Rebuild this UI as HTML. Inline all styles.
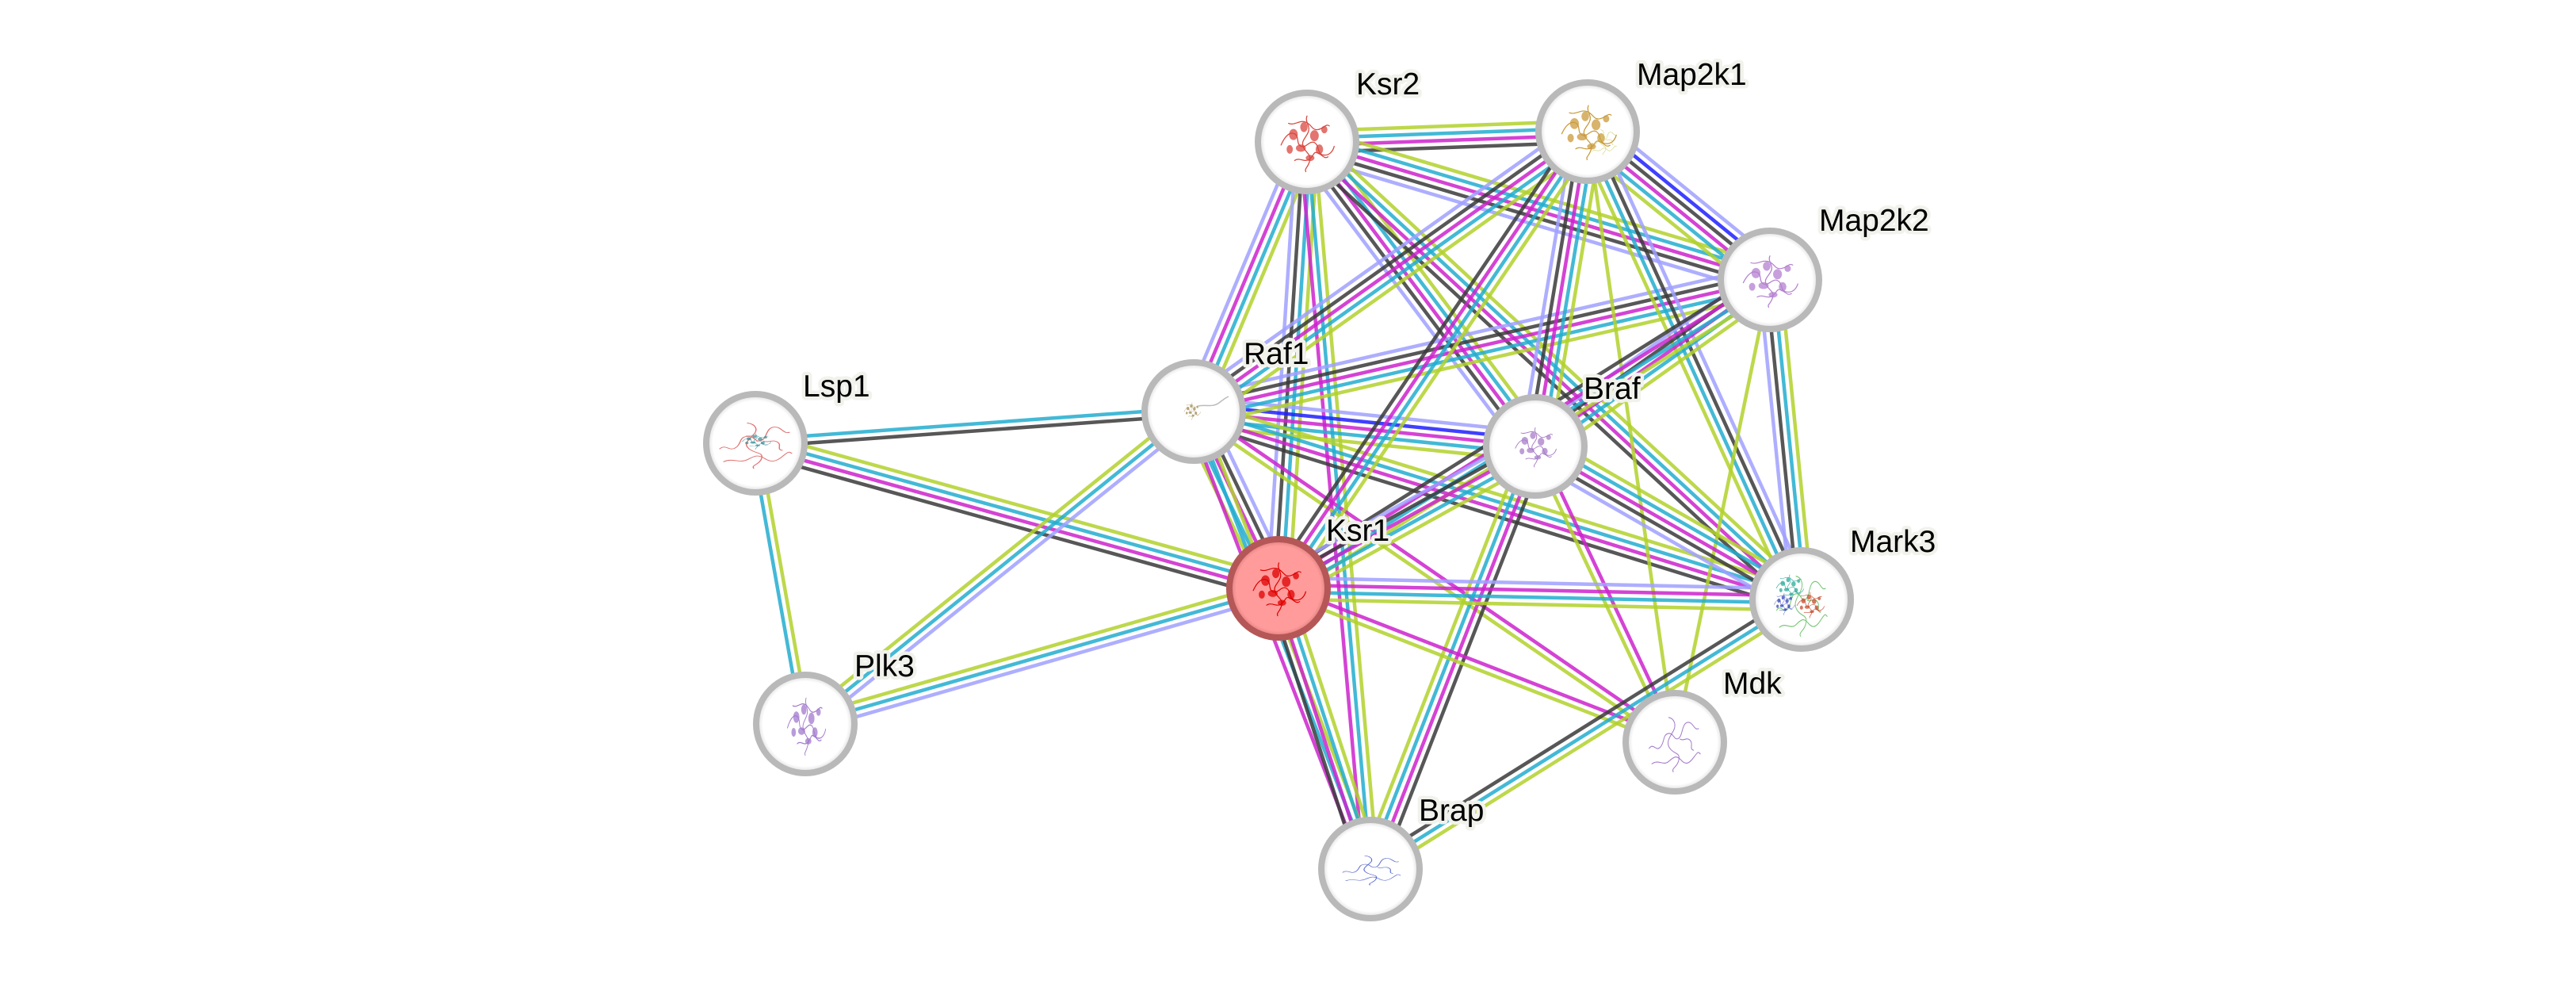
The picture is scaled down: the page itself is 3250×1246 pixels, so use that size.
<!DOCTYPE html>
<html><head><meta charset="utf-8"><title>Ksr1 network</title><style>
html,body{margin:0;padding:0;background:#fff;}
svg{display:block}
.e path{fill:none;stroke-width:4.5;stroke-opacity:.85}
.l{stroke:#b2d12b}.c{stroke:#22adcf}.m{stroke:#cc22cc}.k{stroke:#3a3a3a}.b{stroke:#1f1fff}.v{stroke:#a0a0ff}
text{font-family:"Liberation Sans",Arial,sans-serif;font-size:39px;fill:#000;stroke:#f2f2ed;stroke-width:9px;stroke-linejoin:round;paint-order:stroke}
</style></head><body>
<svg width="3250" height="1246" viewBox="0 0 3250 1246" xmlns="http://www.w3.org/2000/svg">
<defs>
<radialGradient id="gw"><stop offset="0" stop-color="#fff"/><stop offset=".86" stop-color="#fff"/><stop offset="1" stop-color="#d8d8d8"/></radialGradient>
<radialGradient id="gr"><stop offset="0" stop-color="#ff9b9b"/><stop offset=".86" stop-color="#ff9b9b"/><stop offset="1" stop-color="#d97a7a"/></radialGradient>
<symbol id="pg" viewBox="0 0 100 100" preserveAspectRatio="none">
<g fill="none" stroke="currentColor" stroke-width="1.6" stroke-linecap="round">
<path d="M8 55c6-14 14-22 22-18s2 16 10 20 14-10 22-6 4 18 14 20 16-6 18-14"/>
<path d="M20 20c10 4 18-6 28-2s10 14 20 12 12-10 18-6"/>
<path d="M30 80c8-6 16 4 24-2s6-14 14-10 10 10 16 6"/>
<path d="M50 8c-4 10 6 16 2 26s-12 14-8 24 14 12 10 24-8 10-6 16"/>
</g>
<g fill="currentColor" fill-opacity=".75">
<ellipse cx="28" cy="38" rx="7" ry="9"/>
<ellipse cx="45" cy="26" rx="6" ry="8"/>
<ellipse cx="62" cy="40" rx="7" ry="9"/>
<ellipse cx="40" cy="60" rx="8" ry="6"/>
<ellipse cx="70" cy="62" rx="6" ry="8"/>
<ellipse cx="55" cy="76" rx="7" ry="5"/>
<ellipse cx="22" cy="62" rx="5" ry="7"/>
<ellipse cx="78" cy="30" rx="5" ry="6"/>
</g>
</symbol>
<symbol id="pt" viewBox="0 0 100 100" preserveAspectRatio="none">
<g fill="none" stroke="currentColor" stroke-width="1.4" stroke-linecap="round">
<path d="M5 60c8-10 12 6 20-2s4-20 14-22 10 12 18 8 6-24 16-26 12 14 20 10"/>
<path d="M40 10c10 2 14 12 8 22s-14 18-6 28 18 6 16 18-14 14-10 20"/>
<path d="M10 85c12-8 20 4 30-4s14-10 22-2 14 6 22-4 8-10 12-6"/>
<path d="M60 45c6 4 12-4 18 2s-2 14 6 16"/>
</g>
</symbol>
</defs>
<rect width="3250" height="1246" fill="#fff"/>

<g class="e">
<g transform="translate(953 559) rotate(-4.14)"><path class="c" d="M0 -4.5H554"/><path class="k" d="M0 4.5H554"/></g>
<g transform="translate(953 559) rotate(15.50)"><path class="l" d="M0 -13.5H685"/><path class="c" d="M0 -4.5H685"/><path class="m" d="M0 4.5H685"/><path class="k" d="M0 13.5H685"/></g>
<g transform="translate(953 559) rotate(79.91)"><path class="l" d="M0 -4.5H360"/><path class="c" d="M0 4.5H360"/></g>
<g transform="translate(1016 913) rotate(-38.80)"><path class="l" d="M0 -9H629"/><path class="c" d="M0 0H629"/><path class="v" d="M0 9H629"/></g>
<g transform="translate(1016 913) rotate(-15.98)"><path class="l" d="M0 -9H621"/><path class="c" d="M0 0H621"/><path class="v" d="M0 9H621"/></g>
<g transform="translate(1649 179) rotate(112.81)"><path class="l" d="M0 -13.5H369"/><path class="c" d="M0 -4.5H369"/><path class="m" d="M0 4.5H369"/><path class="v" d="M0 13.5H369"/></g>
<g transform="translate(1649 179) rotate(-2.10)"><path class="l" d="M0 -13.5H354"/><path class="c" d="M0 -4.5H354"/><path class="m" d="M0 4.5H354"/><path class="k" d="M0 13.5H354"/></g>
<g transform="translate(1649 179) rotate(16.59)"><path class="l" d="M0 -18H609"/><path class="c" d="M0 -9H609"/><path class="m" d="M0 0H609"/><path class="k" d="M0 9H609"/><path class="v" d="M0 18H609"/></g>
<g transform="translate(2233 353) rotate(-140.89)"><path class="l" d="M0 -22.5H296"/><path class="c" d="M0 -13.5H296"/><path class="m" d="M0 -4.5H296"/><path class="k" d="M0 4.5H296"/><path class="b" d="M0 13.5H296"/><path class="v" d="M0 22.5H296"/></g>
<g transform="translate(1649 179) rotate(93.66)"><path class="l" d="M0 -13.5H564"/><path class="c" d="M0 -4.5H564"/><path class="k" d="M0 4.5H564"/><path class="v" d="M0 13.5H564"/></g>
<g transform="translate(1649 179) rotate(85.01)"><path class="l" d="M0 -9H921"/><path class="c" d="M0 0H921"/><path class="m" d="M0 9H921"/></g>
<g transform="translate(1649 179) rotate(53.13)"><path class="l" d="M0 -18H480"/><path class="c" d="M0 -9H480"/><path class="m" d="M0 0H480"/><path class="k" d="M0 9H480"/><path class="v" d="M0 18H480"/></g>
<g transform="translate(1649 179) rotate(42.76)"><path class="l" d="M0 -13.5H850"/><path class="c" d="M0 -4.5H850"/><path class="m" d="M0 4.5H850"/><path class="k" d="M0 13.5H850"/></g>
<g transform="translate(1937 563) rotate(-174.17)"><path class="l" d="M0 -18H433"/><path class="c" d="M0 -9H433"/><path class="m" d="M0 0H433"/><path class="b" d="M0 9H433"/><path class="v" d="M0 18H433"/></g>
<g transform="translate(2233 353) rotate(167.14)"><path class="l" d="M0 -18H746"/><path class="c" d="M0 -9H746"/><path class="m" d="M0 0H746"/><path class="k" d="M0 9H746"/><path class="v" d="M0 18H746"/></g>
<g transform="translate(2003 166) rotate(144.62)"><path class="l" d="M0 -18H610"/><path class="c" d="M0 -9H610"/><path class="m" d="M0 0H610"/><path class="k" d="M0 9H610"/><path class="v" d="M0 18H610"/></g>
<g transform="translate(1506 519) rotate(17.17)"><path class="l" d="M0 -13.5H803"/><path class="c" d="M0 -4.5H803"/><path class="m" d="M0 4.5H803"/><path class="k" d="M0 13.5H803"/></g>
<g transform="translate(1613 742) rotate(-115.63)"><path class="l" d="M0 -18H247"/><path class="c" d="M0 -9H247"/><path class="m" d="M0 0H247"/><path class="k" d="M0 9H247"/><path class="v" d="M0 18H247"/></g>
<g transform="translate(1506 519) rotate(68.87)"><path class="l" d="M0 -9H619"/><path class="c" d="M0 0H619"/><path class="m" d="M0 9H619"/></g>
<g transform="translate(1506 519) rotate(34.49)"><path class="m" d="M0 -4.5H736"/><path class="l" d="M0 4.5H736"/></g>
<g transform="translate(2003 166) rotate(99.44)"><path class="l" d="M0 -18H402"/><path class="c" d="M0 -9H402"/><path class="m" d="M0 0H402"/><path class="k" d="M0 9H402"/><path class="v" d="M0 18H402"/></g>
<g transform="translate(2273 756) rotate(-114.59)"><path class="l" d="M0 -13.5H649"/><path class="c" d="M0 -4.5H649"/><path class="k" d="M0 4.5H649"/><path class="v" d="M0 13.5H649"/></g>
<g transform="translate(2003 166) rotate(81.87)"><path class="l" d="M0 0H778"/></g>
<g transform="translate(2003 166) rotate(124.10)"><path class="l" d="M0 -13.5H696"/><path class="c" d="M0 -4.5H696"/><path class="m" d="M0 4.5H696"/><path class="k" d="M0 13.5H696"/></g>
<g transform="translate(2233 353) rotate(144.64)"><path class="l" d="M0 -18H363"/><path class="c" d="M0 -9H363"/><path class="m" d="M0 0H363"/><path class="k" d="M0 9H363"/><path class="v" d="M0 18H363"/></g>
<g transform="translate(2233 353) rotate(147.89)"><path class="l" d="M0 -13.5H732"/><path class="c" d="M0 -4.5H732"/><path class="m" d="M0 4.5H732"/><path class="k" d="M0 13.5H732"/></g>
<g transform="translate(2233 353) rotate(84.33)"><path class="l" d="M0 -13.5H405"/><path class="c" d="M0 -4.5H405"/><path class="k" d="M0 4.5H405"/><path class="v" d="M0 13.5H405"/></g>
<g transform="translate(2233 353) rotate(101.63)"><path class="l" d="M0 0H595"/></g>
<g transform="translate(1937 563) rotate(151.08)"><path class="l" d="M0 -18H370"/><path class="c" d="M0 -9H370"/><path class="m" d="M0 0H370"/><path class="k" d="M0 9H370"/><path class="v" d="M0 18H370"/></g>
<g transform="translate(1937 563) rotate(29.87)"><path class="l" d="M0 -18H388"/><path class="c" d="M0 -9H388"/><path class="m" d="M0 0H388"/><path class="k" d="M0 9H388"/><path class="v" d="M0 18H388"/></g>
<g transform="translate(1729 1096) rotate(-68.68)"><path class="l" d="M0 -13.5H572"/><path class="c" d="M0 -4.5H572"/><path class="m" d="M0 4.5H572"/><path class="k" d="M0 13.5H572"/></g>
<g transform="translate(1937 563) rotate(64.74)"><path class="m" d="M0 -4.5H412"/><path class="l" d="M0 4.5H412"/></g>
<g transform="translate(2273 756) rotate(-178.78)"><path class="l" d="M0 -13.5H660"/><path class="c" d="M0 -4.5H660"/><path class="m" d="M0 4.5H660"/><path class="v" d="M0 13.5H660"/></g>
<g transform="translate(1613 742) rotate(21.20)"><path class="m" d="M0 -4.5H536"/><path class="l" d="M0 4.5H536"/></g>
<g transform="translate(1613 742) rotate(71.86)"><path class="l" d="M0 -13.5H373"/><path class="c" d="M0 -4.5H373"/><path class="m" d="M0 4.5H373"/><path class="k" d="M0 13.5H373"/></g>
<g transform="translate(2273 756) rotate(147.99)"><path class="l" d="M0 -9H642"/><path class="c" d="M0 0H642"/><path class="k" d="M0 9H642"/></g>
</g>

<!-- nodes -->
<g stroke="#b9b9b9" stroke-width="8" fill="url(#gw)">
<circle cx="1649" cy="179" r="62"/>
<circle cx="2003" cy="166" r="62"/>
<circle cx="2233" cy="353" r="62"/>
<circle cx="1506" cy="519" r="62"/>
<circle cx="953" cy="559" r="62"/>
<circle cx="1937" cy="563" r="62"/>
<circle cx="2273" cy="756" r="62"/>
<circle cx="1016" cy="913" r="62"/>
<circle cx="2113" cy="936" r="62"/>
<circle cx="1729" cy="1096" r="62"/>
</g>
<circle cx="1613" cy="742" r="62" fill="url(#gr)" stroke="#b55757" stroke-width="8"/>

<!-- protein glyphs -->
<use href="#pg" x="1610" y="140" width="78" height="78" style="color:#d9463f"/>
<use href="#pg" x="1964" y="127" width="80" height="76" style="color:#c99a3a"/>
<use href="#pt" x="2005" y="160" width="36" height="36" style="color:#c8cc60"/>
<use href="#pg" x="2193" y="317" width="80" height="72" style="color:#b47fd0"/>
<use href="#pg" x="1492" y="506" width="24" height="24" style="color:#a08a50"/>
<path d="M1512 512c10-2 18 2 26-4s8-6 12-8" fill="none" stroke="#bbb" stroke-width="1.5"/>
<use href="#pt" x="903" y="527" width="100" height="65" style="color:#e07070"/>
<use href="#pg" x="933" y="545" width="42" height="22" style="color:#3a8f9a"/>
<use href="#pg" x="1907" y="535" width="60" height="55" style="color:#a87cc8"/>
<use href="#pg" x="1575" y="704" width="77" height="74" style="color:#dd0000"/>
<use href="#pt" x="2238" y="718" width="70" height="86" style="color:#77c777"/>
<use href="#pg" x="2238" y="722" width="40" height="36" style="color:#2aaa9a"/>
<use href="#pg" x="2264" y="744" width="40" height="36" style="color:#c84a2c"/>
<use href="#pg" x="2236" y="746" width="30" height="30" style="color:#3344bb"/>
<use href="#pg" x="989" y="874" width="56" height="80" style="color:#a27acd"/>
<use href="#pt" x="2077" y="897" width="71" height="78" style="color:#a37acb"/>
<use href="#pt" x="1690" y="1075" width="80" height="42" style="color:#5566cc"/>

<!-- labels -->
<text x="1711" y="119">Ksr2</text>
<text x="2065" y="107">Map2k1</text>
<text x="2295" y="291">Map2k2</text>
<text x="1569" y="459">Raf1</text>
<text x="1013" y="500">Lsp1</text>
<text x="1998" y="503">Braf</text>
<text x="1673" y="682">Ksr1</text>
<text x="1078" y="853">Plk3</text>
<text x="1790" y="1035">Brap</text>
<text x="2334" y="696">Mark3</text>
<text x="2174" y="875">Mdk</text>
</svg>
</body></html>
